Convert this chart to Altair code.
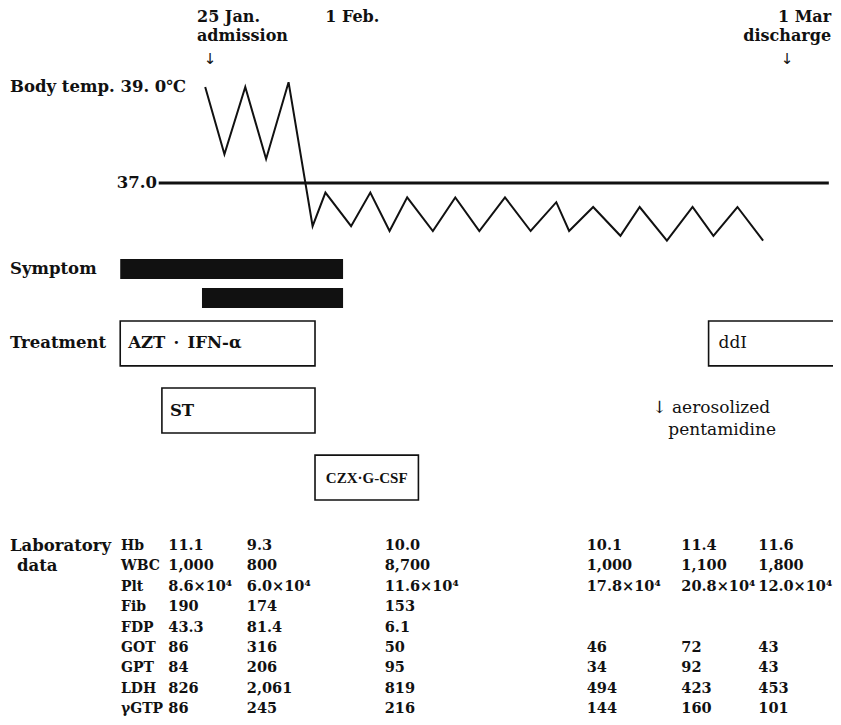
import altair as alt
import pandas as pd

SERIF = "DejaVu Serif"
TIMES = "Liberation Serif"
INK = "#111111"

# ---------------- data (day 0 = 25 Jan, admission) ----------------
temp_day = [-0.3, 0.9, 2.2, 3.5, 4.9, 6.4, 7.2, 8.8, 10.0, 11.2, 12.3, 13.9, 15.3,
            16.8, 18.4, 20.0, 21.6, 22.4, 23.9, 25.6, 26.8, 28.5, 30.1, 31.4, 32.9, 34.5]
temp_c = [39.0, 37.6, 39.0, 37.5, 39.1, 36.1, 36.8, 36.1, 36.8, 36.0, 36.7, 36.0, 36.7,
          36.0, 36.7, 36.0, 36.6, 36.0, 36.5, 35.9, 36.5, 35.8, 36.5, 35.9, 36.5, 35.8]

ref_temp = [37.0]
ref_start = [-3.2]
ref_end = [38.6]

symptom_lane = ["s1", "s2"]
symptom_start = [-5.6, -0.5]
symptom_end = [8.3, 8.3]

treat_label = ["AZT\u2002·\u2002IFN-α", "ST", "CZX·G-CSF", "ddI"]
treat_lane = ["L1", "L2", "L3", "L1"]
treat_start = [-5.6, -3.0, 6.55, 31.1]
treat_end = [6.55, 6.55, 13.0, 40.0]

pentamidine_day = [27.9]

marker_day = [0, 7, 36]
marker_date = ["25 Jan.", "1 Feb.", "1 Mar"]
marker_event = ["admission", "", "discharge"]

lab_params = ["Hb", "WBC", "Plt", "Fib", "FDP", "GOT", "GPT", "LDH", "γGTP"]
lab_col_day = [-2.6, 2.3, 10.9, 23.5, 29.4, 34.2]
lab_values = [
    ["11.1", "9.3", "10.0", "10.1", "11.4", "11.6"],
    ["1,000", "800", "8,700", "1,000", "1,100", "1,800"],
    ["8.6×10⁴", "6.0×10⁴", "11.6×10⁴", "17.8×10⁴", "20.8×10⁴", "12.0×10⁴"],
    ["190", "174", "153", "", "", ""],
    ["43.3", "81.4", "6.1", "", "", ""],
    ["86", "316", "50", "46", "72", "43"],
    ["84", "206", "95", "34", "92", "43"],
    ["826", "2,061", "819", "494", "423", "453"],
    ["86", "245", "216", "144", "160", "101"],
]

# ---------------- tables ----------------
temp_df = pd.DataFrame({"day": temp_day, "temp": temp_c})
ref_df = pd.DataFrame({"temp": ref_temp, "start": ref_start, "end": ref_end})
sym_df = pd.DataFrame({"lane": symptom_lane, "start": symptom_start, "end": symptom_end})
treat_df = pd.DataFrame({"label": treat_label, "lane": treat_lane,
                         "start": treat_start, "end": treat_end})
lab_rows = []
for p, vals in zip(lab_params, lab_values):
    for d, v in zip(lab_col_day, vals):
        if v:
            lab_rows.append({"param": p, "day": d, "value": v})
lab_df = pd.DataFrame(lab_rows)
param_df = pd.DataFrame({"param": lab_params})

# ---------------- scales ----------------
xs = alt.Scale(domain=[-12.6, 38.86], nice=False, zero=False)
ts = alt.Scale(domain=[37, 39], range=[175, 79], nice=False, zero=False)
ss = alt.Scale(type="band", domain=["s1", "s2"], range=[251, 300],
               paddingInner=0.31, paddingOuter=0)
trs = alt.Scale(type="band", domain=["L1", "L2", "L3"], range=[313, 492],
                paddingInner=0.33, paddingOuter=0)
ls = alt.Scale(type="point", domain=lab_params, range=[538, 701], padding=0)


def txt(df, size=16.5, weight="bold", align="left", dx=0, dy=0, font=SERIF):
    return alt.Chart(df).mark_text(font=font, fontSize=size, fontWeight=weight,
                                   align=align, baseline="middle", dx=dx, dy=dy, color=INK)


X_DAY = alt.X("day:Q", scale=xs, axis=None)
layers = []

# temperature
layers.append(alt.Chart(temp_df).mark_line(color=INK, strokeWidth=2, strokeJoin="miter").encode(
    x=X_DAY, y=alt.Y("temp:Q", scale=ts, axis=None)))
layers.append(alt.Chart(ref_df).mark_rule(color=INK, strokeWidth=3).encode(
    x=alt.X("start:Q", scale=xs, axis=None), x2="end:Q",
    y=alt.Y("temp:Q", scale=ts, axis=None)))
layers.append(txt(pd.DataFrame({"t": ["Body temp. 39. 0℃"], "v": [39.0]})).encode(
    x=alt.value(2), y=alt.Y("v:Q", scale=ts, axis=None), text="t:N"))
layers.append(txt(pd.DataFrame({"t": ["37.0"], "v": [37.0]}), align="right").encode(
    x=alt.value(149), y=alt.Y("v:Q", scale=ts, axis=None), text="t:N"))

# date markers
mk = pd.DataFrame({"day": marker_day, "date": marker_date, "event": marker_event})
for i, (dx, al) in enumerate([(-13, "left"), (3, "left"), (44, "right")]):
    one = mk.iloc[[i]]
    layers.append(txt(one, dx=dx, size=16, align=al).encode(
        x=X_DAY, y=alt.value(9), text="date:N"))
    if marker_event[i]:
        layers.append(txt(one, dx=dx, size=16, align=al).encode(
            x=X_DAY, y=alt.value(28), text="event:N"))
        layers.append(txt(one.assign(a="↓"), align="center", size=15, weight="normal",
                          font="DejaVu Sans").encode(x=X_DAY, y=alt.value(51), text="a:N"))

# symptoms
layers.append(alt.Chart(sym_df).mark_rect(color=INK).encode(
    x=alt.X("start:Q", scale=xs, axis=None), x2="end:Q",
    y=alt.Y("lane:N", scale=ss, axis=None)))
layers.append(txt(pd.DataFrame({"t": ["Symptom"], "lane": ["s1"]})).encode(
    x=alt.value(2), y=alt.Y("lane:N", scale=ss, axis=None, bandPosition=0.5), text="t:N"))

# treatments
layers.append(alt.Chart(treat_df).mark_rect(fill="white", stroke=INK, strokeWidth=1.6,
                                            clip=True).encode(
    x=alt.X("start:Q", scale=xs, axis=None), x2="end:Q",
    y=alt.Y("lane:N", scale=trs, axis=None)))
layers.append(txt(treat_df, dx=8).transform_filter(
    "datum.lane != 'L3' && datum.start < 20").encode(
    x=alt.X("start:Q", scale=xs, axis=None),
    y=alt.Y("lane:N", scale=trs, axis=None, bandPosition=0.5), text="label:N"))
layers.append(txt(treat_df, dx=10, weight="normal", size=17).transform_filter(
    "datum.start > 20").encode(
    x=alt.X("start:Q", scale=xs, axis=None),
    y=alt.Y("lane:N", scale=trs, axis=None, bandPosition=0.5), text="label:N"))
layers.append(txt(treat_df, size=15, align="center", font=TIMES).transform_filter(
    "datum.lane == 'L3'").transform_calculate(mid="(datum.start + datum.end) / 2").encode(
    x=alt.X("mid:Q", scale=xs, axis=None),
    y=alt.Y("lane:N", scale=trs, axis=None, bandPosition=0.5), text="label:N"))
layers.append(txt(pd.DataFrame({"t": ["Treatment"], "lane": ["L1"]})).encode(
    x=alt.value(2), y=alt.Y("lane:N", scale=trs, axis=None, bandPosition=0.5), text="t:N"))

# aerosolized pentamidine
pdf = pd.DataFrame({"day": pentamidine_day, "a": ["↓ aerosolized"], "b": ["pentamidine"]})
layers.append(txt(pdf, dx=-5, weight="normal", size=17).encode(
    x=X_DAY, y=alt.value(400), text="a:N"))
layers.append(txt(pdf, dx=11, weight="normal", size=17).encode(
    x=X_DAY, y=alt.value(422), text="b:N"))

# laboratory data
layers.append(txt(lab_df, size=14.5).encode(
    x=X_DAY, y=alt.Y("param:N", scale=ls, axis=None), text="value:N"))
layers.append(txt(param_df, size=14).encode(
    x=alt.value(113), y=alt.Y("param:N", scale=ls, axis=None), text="param:N"))
layers.append(txt(pd.DataFrame({"t": ["Laboratory"], "param": ["Hb"]})).encode(
    x=alt.value(2), y=alt.Y("param:N", scale=ls, axis=None), text="t:N"))
layers.append(txt(pd.DataFrame({"t": ["data"], "param": ["WBC"]})).encode(
    x=alt.value(9), y=alt.Y("param:N", scale=ls, axis=None), text="t:N"))

chart = alt.layer(*layers).resolve_scale(y="independent").properties(
    width=825, height=709, padding=0, autosize=alt.AutoSizeParams(type="none")
).configure(background="white").configure_view(stroke=None)

chart.save("out.html", embed_options={"renderer": "svg", "actions": False})
